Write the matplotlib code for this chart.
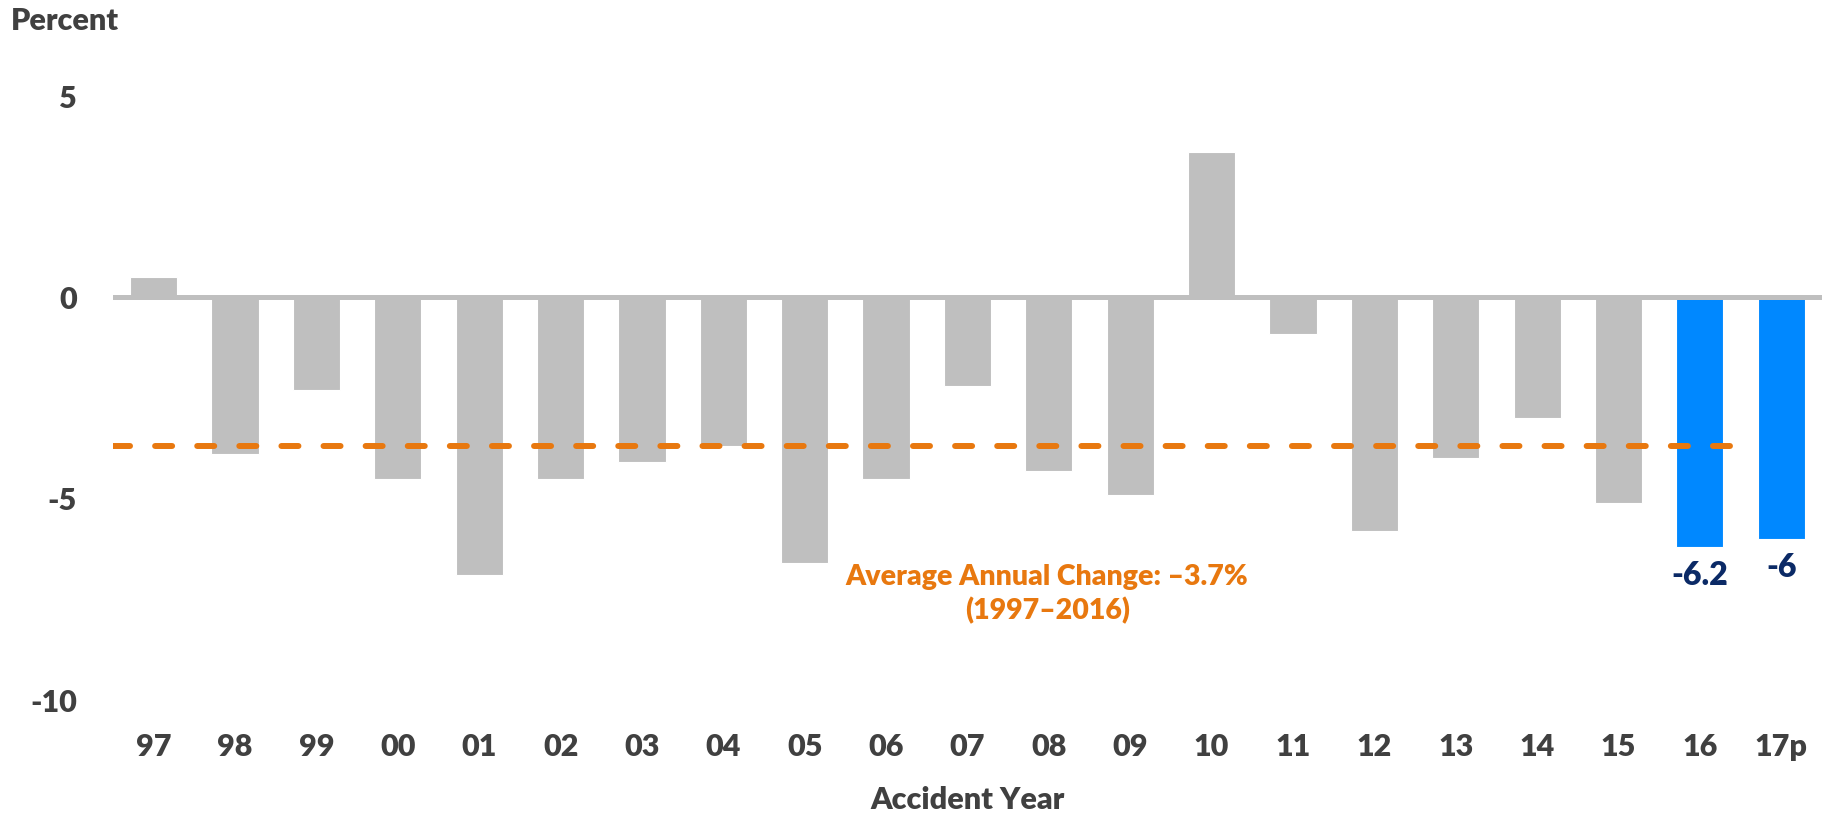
import matplotlib
matplotlib.use("Agg")
import matplotlib.pyplot as plt

categories = ["97", "98", "99", "00", "01", "02", "03", "04", "05", "06", "07",
              "08", "09", "10", "11", "12", "13", "14", "15", "16", "17p"]
values = [0.5, -3.9, -2.3, -4.5, -6.9, -4.5, -4.1, -3.7, -6.6, -4.5, -2.2,
          -4.3, -4.9, 3.6, -0.9, -5.8, -4.0, -3.0, -5.1, -6.2, -6.0]
highlight = ["16", "17p"]
data_labels = {"16": "-6.2", "17p": "-6"}
average_change = -3.7
y_ticks = [5, 0, -5, -10]

plt.rcParams['font.family'] = ['Lato', 'DejaVu Sans']

GRAY = "#BFBFBF"
BLUE = "#0088FF"
NAVY = "#0B2A66"
ORANGE = "#E8780F"
TXT = "#404040"

fig = plt.figure(figsize=(18.28, 8.14), dpi=100)
ax = fig.add_axes([0.0618, 0.140, 0.9349, 0.742])

x = list(range(len(categories)))
colors = [BLUE if c in highlight else GRAY for c in categories]
ax.bar(x, values, width=0.58, color=colors, edgecolor="white", linewidth=0.8, zorder=2)
ax.axhline(0, color=GRAY, linewidth=3.6, zorder=3)

ax.plot([-0.5, 19.45], [average_change, average_change], color=ORANGE, linewidth=4.3,
        linestyle=(0, (2.85, 4.2)), dash_capstyle="round", zorder=4)

for i, c in enumerate(categories):
    if c in data_labels:
        ax.text(i, values[i] - 0.35, data_labels[c], ha="center", va="top",
                fontsize=23, fontweight="heavy", color=NAVY)

ax.text(10.98, -7.36, "Average Annual Change: \u20133.7%\n(1997\u20132016)", ha="center", va="center",
        fontsize=20.5, fontweight="heavy", color=ORANGE, linespacing=1.3)

ax.set_xlim(-0.5, 20.5)
ax.set_ylim(-10, 5)
ax.set_yticks(y_ticks)
ax.set_yticklabels([str(t) for t in y_ticks])
ax.set_xticks(x)
ax.set_xticklabels(categories)
ax.tick_params(axis="both", length=0, labelsize=22, colors=TXT)
ax.tick_params(axis="y", pad=26)
ax.tick_params(axis="x", pad=24)
for lab in ax.get_xticklabels() + ax.get_yticklabels():
    lab.set_fontweight("heavy")
for s in ax.spines.values():
    s.set_visible(False)

ax.set_xlabel("Accident Year", fontsize=22, fontweight="heavy", color=TXT, labelpad=18)
fig.text(0.006, 0.992, "Percent", ha="left", va="top", fontsize=22, fontweight="heavy", color=TXT)

fig.savefig("out.png", dpi=100)
